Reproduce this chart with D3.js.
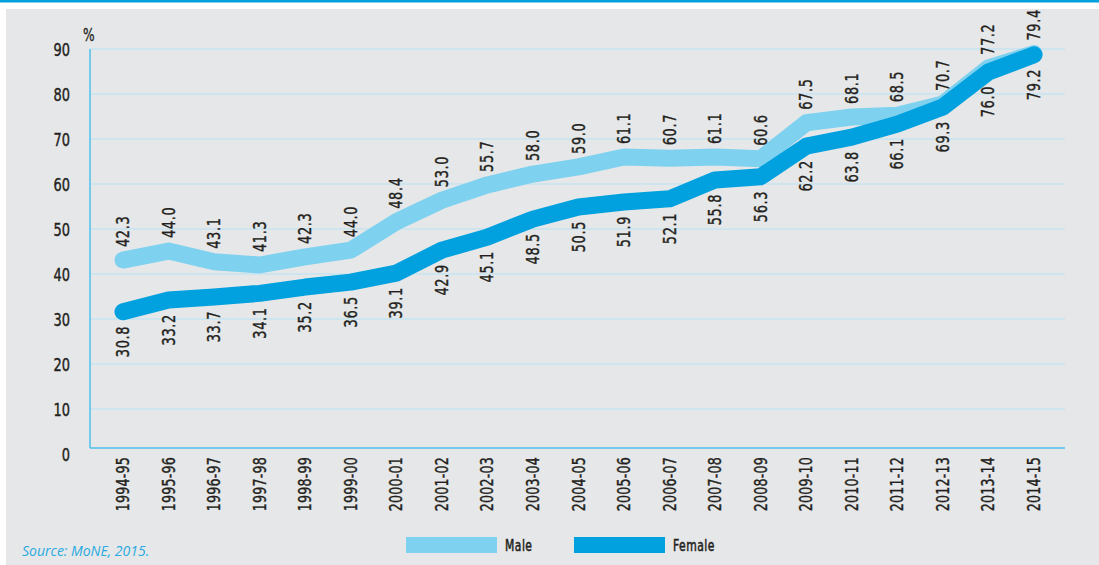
<!DOCTYPE html>
<html>
<head>
<meta charset="utf-8">
<script src="https://cdn.jsdelivr.net/npm/d3@7"></script>
<style>
  html, body { margin: 0; padding: 0; background: #ffffff; }
  svg { display: block; }
  text { font-family: 'DejaVu Sans Condensed', 'Liberation Sans Narrow', sans-serif; fill: #231f20; }
</style>
</head>
<body>
<script>
// ---- data ----
const categories = ["1994-95","1995-96","1996-97","1997-98","1998-99","1999-00","2000-01","2001-02","2002-03","2003-04","2004-05","2005-06","2006-07","2007-08","2008-09","2009-10","2010-11","2011-12","2012-13","2013-14","2014-15"];
// plotted line positions (as drawn in the picture)
const maleLine   = [43.1, 45.1, 42.7, 42.0, 43.8, 45.3, 51.6, 56.4, 59.8, 62.2, 63.8, 66.0, 65.7, 66.0, 65.6, 73.6, 74.9, 75.3, 77.8, 85.8, 89.0];
const femaleLine = [31.6, 34.2, 34.9, 35.7, 37.1, 38.2, 40.2, 45.3, 48.2, 52.2, 54.9, 56.0, 56.7, 60.9, 61.6, 68.4, 70.4, 73.3, 77.1, 84.9, 88.7];
// printed value labels
const maleLabels   = ["42.3","44.0","43.1","41.3","42.3","44.0","48.4","53.0","55.7","58.0","59.0","61.1","60.7","61.1","60.6","67.5","68.1","68.5","70.7","77.2","79.4"];
const femaleLabels = ["30.8","33.2","33.7","34.1","35.2","36.5","39.1","42.9","45.1","48.5","50.5","51.9","52.1","55.8","56.3","62.2","63.8","66.1","69.3","76.0","79.2"];
const yTicks = [0,10,20,30,40,50,60,70,80,90];
const seriesNames = ["Male","Female"];
const sourceText = "Source: MoNE, 2015.";

// ---- styling ----
const W = 1099, H = 565;
const maleColor = "#7fd1f0", femaleColor = "#00a1de";
const plotLeft = 90, plotRight = 1065, baseY = 448;
const SX = 0.8; // horizontal compression to mimic a condensed face
const INK = "#231f20";

const svg = d3.select("body").append("svg").attr("width", W).attr("height", H);

// background
svg.append("rect").attr("x", 0).attr("y", 0).attr("width", W).attr("height", H).attr("fill", "#ffffff");
svg.append("rect").attr("x", 6).attr("y", 9).attr("width", W - 6).attr("height", H - 9).attr("fill", "#e6e7e8");
svg.append("rect").attr("x", 0).attr("y", 0).attr("width", W).attr("height", 2.5).attr("fill", "#00a1de");

const x = d3.scalePoint().domain(categories).range([123, 1034]);
const y = d3.scaleLinear().domain([0, 90]).range([454, 49]);

// grid lines
svg.append("g").selectAll("line").data(yTicks.filter(d => d > 0)).join("line")
  .attr("x1", plotLeft).attr("x2", plotRight)
  .attr("y1", d => y(d)).attr("y2", d => y(d))
  .attr("stroke", "#c6e5f3").attr("stroke-width", 1.5);

// axes lines
svg.append("line").attr("x1", plotLeft).attr("x2", plotLeft).attr("y1", y(90)).attr("y2", baseY)
  .attr("stroke", "#4fc0ec").attr("stroke-width", 1.5);
svg.append("line").attr("x1", plotLeft).attr("x2", plotRight).attr("y1", baseY).attr("y2", baseY)
  .attr("stroke", "#4fc0ec").attr("stroke-width", 1.5);

// y tick labels
const yAxis = d3.axisLeft(y).tickValues(yTicks).tickSize(0).tickPadding(0);
const gy = svg.append("g").attr("transform", `translate(70,1)`).call(yAxis);
gy.select(".domain").remove();
gy.selectAll("text").attr("font-size", 18).attr("fill", INK)
  .attr("stroke", INK).attr("stroke-width", 0.4)
  .attr("transform", `scale(${SX},1)`)
  .style("font-family", "'DejaVu Sans Condensed', sans-serif");

svg.append("text").attr("font-size", 17)
  .attr("stroke", INK).attr("stroke-width", 0.3)
  .attr("transform", `translate(83,41) scale(${SX},1)`).text("%");

// x tick labels
svg.append("g").selectAll("text").data(categories).join("text")
  .attr("transform", d => `translate(${x(d) + 6},${baseY + 9}) rotate(-90) scale(${SX},1)`)
  .attr("text-anchor", "end")
  .attr("font-size", 17.5)
  .attr("stroke", INK).attr("stroke-width", 0.4)
  .attr("letter-spacing", 0.3)
  .text(d => d);

// lines
const lineGen = vals => d3.line()
  .x((d, i) => x(categories[i]))
  .y(d => y(d))(vals);

svg.append("path").attr("d", lineGen(maleLine))
  .attr("fill", "none").attr("stroke", maleColor).attr("stroke-width", 17)
  .attr("stroke-linecap", "round").attr("stroke-linejoin", "round");
svg.append("path").attr("d", lineGen(femaleLine))
  .attr("fill", "none").attr("stroke", femaleColor).attr("stroke-width", 17)
  .attr("stroke-linecap", "round").attr("stroke-linejoin", "round");

// value labels
svg.append("g").selectAll("text").data(maleLabels).join("text")
  .attr("transform", (d, i) => `translate(${x(categories[i]) + 6},${y(maleLine[i]) - 13}) rotate(-90) scale(${SX},1)`)
  .attr("text-anchor", "start")
  .attr("font-size", 18).attr("letter-spacing", 0.8)
  .attr("stroke", INK).attr("stroke-width", 0.4)
  .text(d => d);
svg.append("g").selectAll("text").data(femaleLabels).join("text")
  .attr("transform", (d, i) => `translate(${x(categories[i]) + 6},${y(femaleLine[i]) + 14}) rotate(-90) scale(${SX},1)`)
  .attr("text-anchor", "end")
  .attr("font-size", 18).attr("letter-spacing", 0.8)
  .attr("stroke", INK).attr("stroke-width", 0.4)
  .text(d => d);

// legend
const legendColors = [maleColor, femaleColor];
const legendX = [406, 574];
const lg = svg.append("g").selectAll("g").data(seriesNames).join("g")
  .attr("transform", (d, i) => `translate(${legendX[i]},537)`);
lg.append("rect").attr("width", 91).attr("height", 16).attr("fill", (d, i) => legendColors[i]);
lg.append("text").attr("font-size", 15)
  .attr("stroke", INK).attr("stroke-width", 0.5)
  .attr("transform", `translate(99,14) scale(${SX},1)`)
  .attr("letter-spacing", 0.6).text(d => d);

// source
svg.append("text").attr("x", 22).attr("y", 556)
  .attr("font-size", 14).attr("font-style", "italic")
  .style("fill", "#29aae1")
  .style("font-family", "'Open Sans', 'DejaVu Sans', sans-serif")
  .text(sourceText);
</script>
</body>
</html>
